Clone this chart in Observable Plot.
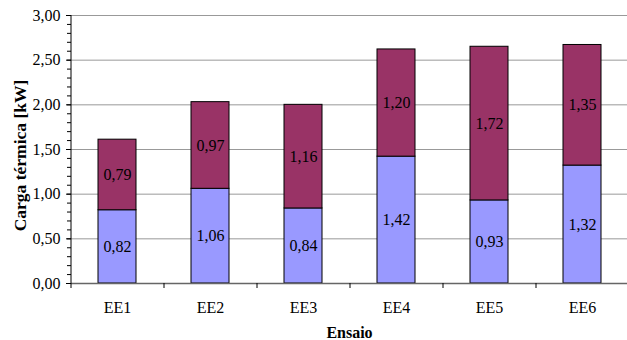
<!DOCTYPE html>
<html>
<head>
<meta charset="utf-8">
<script src="https://cdn.jsdelivr.net/npm/d3@7"></script>
<script src="https://cdn.jsdelivr.net/npm/@observablehq/plot@0.6"></script>
<style>
  html, body { margin: 0; padding: 0; background: #fff; }
  #chart { width: 627px; height: 340px; overflow: hidden; }
  #chart svg, #chart svg text { font-family: 'Liberation Serif', 'Times New Roman', serif; }
</style>
</head>
<body>
<div id="chart"></div>
<script>
// Ensaios (test runs) and the two stacked components of thermal load [kW]
const ensaios = ["EE1", "EE2", "EE3", "EE4", "EE5", "EE6"];
const inferior = [0.82, 1.06, 0.84, 1.42, 0.93, 1.32];
const superior = [0.79, 0.97, 1.16, 1.20, 1.72, 1.35];
const seriesNames = ["inferior", "superior"];
const yMajor = [0, 0.5, 1, 1.5, 2, 2.5, 3];
const yMinor = d3.range(0, 31).map(i => i / 10);

const data = [
  ...ensaios.map((e, i) => ({ensaio: e, serie: seriesNames[0], valor: inferior[i]})),
  ...ensaios.map((e, i) => ({ensaio: e, serie: seriesNames[1], valor: superior[i]}))
];

const fmt = v => v.toFixed(2).replace(".", ",");
const serif = "Liberation Serif";
const halfStep = 46.5;

const chart = Plot.plot({
  width: 627,
  height: 340,
  marginLeft: 71,
  marginRight: 0,
  marginTop: 15,
  marginBottom: 57,
  style: {fontFamily: "'Liberation Serif', serif", fontSize: "16px", color: "#000", background: "#fff"},
  x: {domain: ensaios, range: [71, 629], paddingInner: 0.59, paddingOuter: 0.295, align: 0.5},
  y: {domain: [0, 3]},
  color: {domain: seriesNames, range: ["#9999FF", "#993366"]},
  marks: [
    Plot.gridY({ticks: yMajor, stroke: "#999", strokeOpacity: 1, strokeWidth: 1}),
    Plot.barY(data, {x: "ensaio", y: "valor", fill: "serie", stroke: "#000", strokeWidth: 1, order: seriesNames}),
    Plot.text(data, Plot.stackY({x: "ensaio", y: "valor", z: "serie", order: seriesNames, text: d => fmt(d.valor), fill: "#000", fontSize: 16, fontFamily: serif})),
    // category axis baseline and boundary ticks
    Plot.ruleY([0], {stroke: "#666", strokeWidth: 1.5}),
    Plot.ruleX(ensaios, {x: d => d, y1: 0, y2: 0, dx: -halfStep, insetBottom: -5, stroke: "#000"}),
    // value axis line
    Plot.ruleX([ensaios[0]], {x: d => d, y1: 0, y2: 3, dx: -halfStep, stroke: "#000"}),
    Plot.axisY({ticks: yMinor, tickSize: 4, tickFormat: () => "", label: null, stroke: "#000"}),
    Plot.axisY({ticks: yMajor, tickSize: 5, tickPadding: 6, tickFormat: fmt, label: null, fontSize: 16, fontFamily: serif}),
    Plot.axisX({tickSize: 0, tickPadding: 18, label: null, fontSize: 16, fontFamily: serif}),
    Plot.text(["Carga térmica [kW]"], {frameAnchor: "left", textAnchor: "middle", lineAnchor: "middle", dx: -51, dy: 6, rotate: -90, fontWeight: "bold", fontSize: 17.5, fontFamily: serif}),
    Plot.text(["Ensaio"], {frameAnchor: "bottom", textAnchor: "middle", lineAnchor: "middle", dy: 49, fontWeight: "bold", fontSize: 16, fontFamily: serif})
  ]
});

document.getElementById("chart").appendChild(chart);
</script>
</body>
</html>
